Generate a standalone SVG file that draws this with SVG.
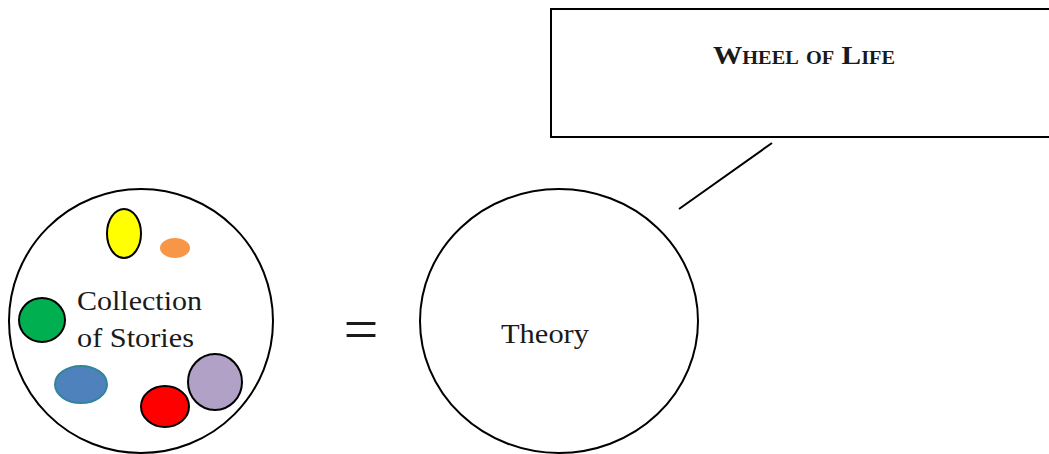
<svg xmlns="http://www.w3.org/2000/svg" width="1049" height="454" viewBox="0 0 1049 454">
<style>
.outline{fill:#fff;stroke:#000;stroke-width:2}
.blob{stroke:#000;stroke-width:2}
.lbl{font-family:"Liberation Serif",serif;fill:#1a1a1a}
.conn{stroke:#000;stroke-width:2;fill:none}
</style>
<rect width="1049" height="454" fill="#fff"/>
<g id="wheel-of-life">
<rect class="outline" x="551" y="9" width="510" height="128"/>
<text class="lbl" x="713" y="64" font-size="26" font-weight="bold" font-variant="small-caps" textLength="182" lengthAdjust="spacingAndGlyphs">Wheel of Life</text>
</g>
<g id="connectors">
<line class="conn" x1="772" y1="143" x2="679" y2="209"/>
</g>
<g id="collection">
<ellipse class="outline" cx="141" cy="321" rx="132" ry="132"/>
<ellipse class="blob" cx="124" cy="233.5" rx="17" ry="24.5" fill="#ffff00"/>
<ellipse cx="175" cy="248" rx="15" ry="10" fill="#f79646"/>
<ellipse class="blob" cx="42" cy="320" rx="23" ry="22" fill="#00b050"/>
<ellipse cx="81" cy="384.5" rx="26" ry="18.5" fill="#4f81bd" stroke="#31859c" stroke-width="2"/>
<ellipse class="blob" cx="165" cy="406.5" rx="24" ry="20.5" fill="#ff0000"/>
<ellipse class="blob" cx="215" cy="382" rx="27" ry="28" fill="#b2a1c7"/>
<text class="lbl" font-size="27"><tspan x="77" y="310" textLength="125" lengthAdjust="spacingAndGlyphs">Collection</tspan><tspan x="77" y="347" textLength="117" lengthAdjust="spacingAndGlyphs">of Stories</tspan></text>
</g>
<g id="equals">
<text class="lbl" x="361" y="350" font-size="62" text-anchor="middle">=</text>
</g>
<g id="theory">
<ellipse class="outline" cx="559" cy="321" rx="139" ry="132"/>
<text class="lbl" x="501" y="343" font-size="27" textLength="88" lengthAdjust="spacingAndGlyphs">Theory</text>
</g>
</svg>
